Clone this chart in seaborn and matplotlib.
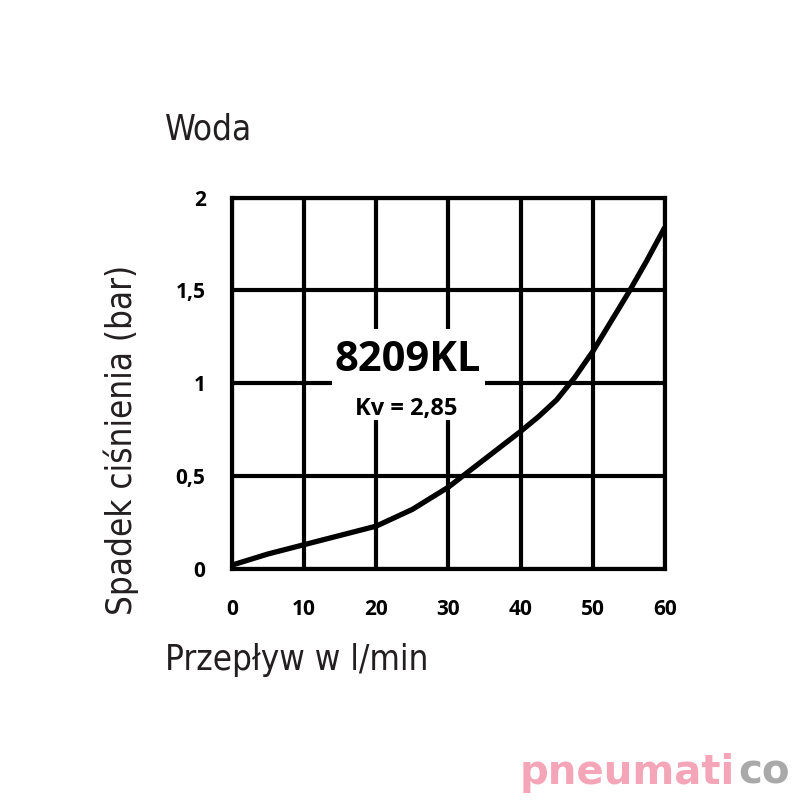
import matplotlib
matplotlib.use('Agg')
import matplotlib.pyplot as plt
from matplotlib.patches import Rectangle
import seaborn as sns
import pandas as pd

# Curve
flow = [0, 5, 10, 15, 20, 25, 30, 35, 40, 42.5, 45, 47.5, 50, 52.5, 55, 57.5, 60]
drop = [0.02, 0.08, 0.13, 0.18, 0.23, 0.32, 0.44, 0.59, 0.74, 0.82, 0.91, 1.03, 1.17, 1.33,
        1.49, 1.66, 1.84]
x_ticks = [0, 10, 20, 30, 40, 50, 60]
y_ticks = [0, 0.5, 1, 1.5, 2]
y_tick_labels = ['0', '0,5', '1', '1,5', '2']

df = pd.DataFrame({'flow': flow, 'drop': drop})

sns.set_style('white')
plt.rcParams['font.family'] = ['DejaVu Sans']

fig = plt.figure(figsize=(8, 8), dpi=100)
ax = fig.add_axes([0.29, 0.289, 0.541, 0.464])

sns.lineplot(data=df, x='flow', y='drop', ax=ax, color='black', linewidth=3.8, zorder=5,
             solid_joinstyle='round', solid_capstyle='butt')

ax.set_xlim(0, 60)
ax.set_ylim(0, 2)
ax.set_xticks(x_ticks)
ax.set_yticks(y_ticks)
ax.set_xticklabels([str(t) for t in x_ticks])
ax.set_yticklabels(y_tick_labels)
ax.grid(True, color='black', linewidth=3)
ax.set_axisbelow(True)
for s in ax.spines.values():
    s.set_color('black')
    s.set_linewidth(3)
ax.tick_params(axis='x', length=0, pad=22, colors='black')
ax.tick_params(axis='y', length=0, pad=19, colors='black')
for lab in ax.get_xticklabels() + ax.get_yticklabels():
    lab.set_fontfamily('Open Sans')
    lab.set_fontweight('bold')
    lab.set_fontsize(15)

# white box behind the model label
ax.add_patch(Rectangle((13.9, 0.80), 21.2, 0.49, facecolor='white', edgecolor='none', zorder=3))
ax.text(24.3, 1.12, '8209KL', ha='center', va='center', fontsize=30, fontweight='bold',
        family='Open Sans', color='black', zorder=4)
ax.text(24.2, 0.86, 'Kv = 2,85', ha='center', va='center', fontsize=17, fontweight='bold',
        family='Open Sans', color='black', zorder=4)

ax.set_xlabel('')
ax.set_ylabel('')
txt = '#231f20'
fig.text(0.206, 0.825, 'Woda', fontsize=25, color=txt, fontstretch='condensed', ha='left', va='baseline')
fig.text(0.206, 0.163, 'Przepływ w l/min', fontsize=25, color=txt, fontstretch='condensed',
         ha='left', va='baseline')
fig.text(0.152, 0.45, 'Spadek ciśnienia (bar)', fontsize=25, color=txt, fontstretch='condensed',
         rotation=90, ha='center', va='center')

# watermark
wm = fig.text(0.65, 0.02, 'pneumati', fontsize=29, fontweight='bold', color='#f4a6b8',
              family='DejaVu Sans', ha='left', va='baseline')
fig.canvas.draw()
bb = wm.get_window_extent().transformed(fig.transFigure.inverted())
fig.text(bb.x1 + 0.004, 0.02, 'co', fontsize=29, fontweight='bold', color='#a9a9a9',
         family='DejaVu Sans', ha='left', va='baseline')

fig.savefig('out.png', dpi=100)
